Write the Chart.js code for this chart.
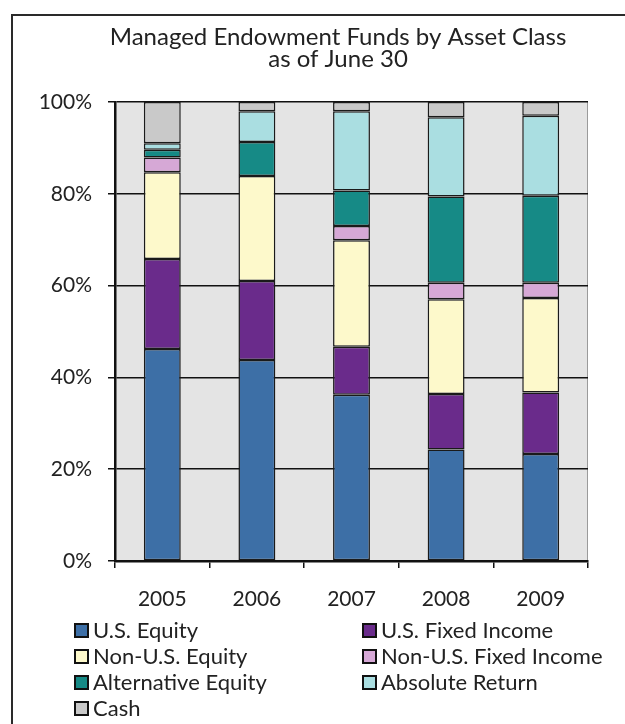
<!DOCTYPE html>
<html>
<head>
<meta charset="utf-8">
<script src="https://cdn.jsdelivr.net/npm/chart.js@4.4.1/dist/chart.umd.min.js"></script>
<style>
  html, body { margin: 0; padding: 0; background: #fff; }
  #wrap { position: relative; width: 625px; height: 724px; overflow: hidden; }
  #frame { position: absolute; left: 11px; top: 14px; width: 700px; height: 800px;
           border-left: 2.5px solid #2a2a2a; border-top: 2.5px solid #2a2a2a; pointer-events: none; }
  #legend { position: absolute; left: 0; top: 0; width: 625px; height: 724px; pointer-events: none;
            font-family: Lato, sans-serif; font-size: 22px; color: #222; }
  .item { position: absolute; height: 26px; line-height: 26px; white-space: nowrap; }
  .box { position: absolute; left: 0; top: 6px; width: 11px; height: 11px; border: 2px solid #111; }
  .item span { position: absolute; left: 19px; top: 0; }
</style>
</head>
<body>
<div id="wrap">
  <canvas id="chart" width="625" height="724"></canvas>
  <div id="frame"></div>
  <div id="legend"></div>
</div>
<script>
const years = ['2005', '2006', '2007', '2008', '2009'];

// share of assets, percent
const usEquity    = [46.2, 43.8, 36.2, 24.3, 23.3];
const usFixed     = [19.6, 17.2, 10.5, 12.1, 13.4];
const nonUsEquity = [18.9, 22.9, 23.2, 20.6, 20.6];
const nonUsFixed  = [3.2, 0, 3.1, 3.6, 3.3];
const altEquity   = [1.7, 7.4, 7.7, 18.8, 19.0];
const absReturn   = [1.4, 6.7, 17.3, 17.3, 17.4];
const cash        = [9.0, 2.0, 2.0, 3.3, 3.0];

const seriesNames = ['U.S. Equity', 'U.S. Fixed Income', 'Non-U.S. Equity', 'Non-U.S. Fixed Income',
                     'Alternative Equity', 'Absolute Return', 'Cash'];
const seriesColors = ['#3d6fa6', '#6a2b8b', '#fdf9cb', '#d6a8d6', '#168a86', '#aadee1', '#c9c9c9'];
const seriesData = [usEquity, usFixed, nonUsEquity, nonUsFixed, altEquity, absReturn, cash];

const titleLines = ['Managed Endowment Funds by Asset Class', 'as of June 30'];

const FONT = 'Lato, sans-serif';

const plotBg = {
  id: 'plotBg',
  beforeDraw(chart) {
    const { ctx, chartArea: a } = chart;
    ctx.save();
    ctx.fillStyle = '#e4e4e4';
    ctx.fillRect(a.left, a.top, a.right - a.left, a.bottom - a.top);
    ctx.strokeStyle = '#9a9a9a';
    ctx.lineWidth = 1;
    ctx.beginPath();
    ctx.moveTo(a.right - 0.5, a.top);
    ctx.lineTo(a.right - 0.5, a.bottom);
    ctx.stroke();
    ctx.restore();
  }
};

// title sits off-centre in the original frame, so place it by hand
const sideTitle = {
  id: 'sideTitle',
  afterDraw(chart) {
    const ctx = chart.ctx;
    ctx.save();
    ctx.fillStyle = '#222';
    ctx.font = '24px ' + FONT;
    ctx.textAlign = 'center';
    ctx.textBaseline = 'alphabetic';
    titleLines.forEach((t, i) => ctx.fillText(t, 338, 45 + i * 22));
    ctx.restore();
  }
};

function buildLegend(chart) {
  const el = document.getElementById('legend');
  chart.data.datasets.forEach((ds, i) => {
    const col = i % 2, row = Math.floor(i / 2);
    const item = document.createElement('div');
    item.className = 'item';
    item.style.left = (col ? 362 : 74) + 'px';
    item.style.top = (617 + row * 26) + 'px';
    item.innerHTML = '<div class="box" style="background:' + ds.backgroundColor + '"></div><span>' + ds.label + '</span>';
    el.appendChild(item);
  });
}

function draw() {
  const chart = new Chart(document.getElementById('chart'), {
    type: 'bar',
    data: {
      labels: years,
      datasets: seriesNames.map((name, i) => ({
        label: name,
        data: seriesData[i],
        backgroundColor: seriesColors[i],
        borderColor: '#1a1a1a',
        borderWidth: 1.5,
        borderSkipped: false,
        categoryPercentage: 1,
        barPercentage: 0.39,
      }))
    },
    options: {
      responsive: false,
      devicePixelRatio: 1,
      animation: false,
      layout: { padding: { left: 40, right: 37, top: 102, bottom: 0 } },
      plugins: {
        legend: { display: false },
        tooltip: { enabled: false },
        title: { display: false },
      },
      scales: {
        x: {
          stacked: true,
          grid: { offset: true, drawOnChartArea: false, drawTicks: true, tickLength: 7, color: '#111', lineWidth: 1.5 },
          border: { display: true, color: '#111', width: 2.5 },
          ticks: { color: '#222', font: { family: FONT, size: 21 }, padding: 19 },
          afterFit: s => { s.height = 724 - 561; },
        },
        y: {
          stacked: true,
          min: 0,
          max: 100,
          grid: { color: '#111', lineWidth: 1.5, tickLength: 7 },
          border: { display: true, color: '#111', width: 2.5 },
          ticks: { stepSize: 20, color: '#222', font: { family: FONT, size: 21 }, padding: 16, callback: v => v + '%' },
          afterFit: s => { s.width = 75; },
        }
      }
    },
    plugins: [plotBg, sideTitle]
  });
  buildLegend(chart);
}

document.fonts.load('21px Lato').then(draw, draw);
</script>
</body>
</html>
